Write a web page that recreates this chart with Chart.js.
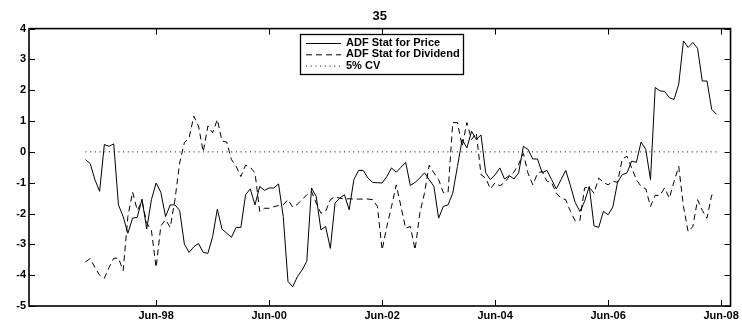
<!DOCTYPE html>
<html>
<head>
<meta charset="utf-8">
<title>ADF Stat 35</title>
<script src="https://cdn.jsdelivr.net/npm/chart.js@4.4.1/dist/chart.umd.min.js"></script>
<style>
    body { margin: 0; background: #fff; }
    .chart-wrap { width: 742px; height: 327px; position: relative; }
</style>
</head>
<body>
<div class="chart-wrap"><canvas id="adfChart"></canvas></div>
<script>
// Months are counted as year*12 + month index (Jan = 0)
const monthNames = ['Jan', 'Feb', 'Mar', 'Apr', 'May', 'Jun', 'Jul', 'Aug', 'Sep', 'Oct', 'Nov', 'Dec'];
const firstMonth = 1997 * 12 + 2;   // Mar-97
const axisStart = 1996 * 12 + 2;    // Mar-96
const axisEnd = 2008 * 12 + 7;      // Aug-08
const tickYears = [1998, 2000, 2002, 2004, 2006, 2008];  // labelled in June
const yTicks = [-5, -4, -3, -2, -1, 0, 1, 2, 3, 4];
const cvLevel = 0;

// ADF stat for price, monthly from Mar-97
const priceStat = [
    -0.25, -0.38, -0.9, -1.28, 0.24, 0.18, 0.26, -1.72, -2.1, -2.64,
    -2.15, -2.12, -1.53, -2.5, -1.55, -1.01, -1.31, -2.1, -1.72, -1.72,
    -1.9, -2.99, -3.26, -3.08, -2.97, -3.26, -3.29, -2.75, -1.86, -2.51,
    -2.64, -2.77, -2.45, -2.45, -1.39, -1.2, -1.72, -1.12, -1.25, -1.17,
    -1.17, -1.04, -2.1, -4.2, -4.38, -4.05, -3.83, -3.55, -1.17, -1.45,
    -2.53, -2.42, -3.13, -1.66, -1.5, -1.39, -1.88, -0.9, -0.6, -0.6,
    -0.85, -0.99, -1.0, -1.01, -0.8, -0.52, -0.66, -0.5, -0.34, -1.09,
    -0.99, -0.85, -0.68, -0.9, -1.12, -2.15, -1.77, -1.72, -1.34, -0.47,
    0.4, 0.13, 0.67, 0.4, 0.55, -0.68, -0.9, -0.74, -0.52, -0.88,
    -0.77, -0.88, -0.68, 0.18, 0.08, -0.23, -0.23, -0.68, -0.6, -0.9,
    -1.2, -0.9, -0.6, -1.1, -1.64, -1.93, -1.61, -1.12, -2.4, -2.45,
    -1.93, -2.04, -1.79, -0.99, -0.74, -0.68, -0.3, -0.34, 0.32, 0.08,
    -0.9, 2.09, 1.98, 1.96, 1.76, 1.7, 2.2, 3.6, 3.39, 3.55,
    3.36, 2.3, 2.3, 1.38, 1.22
];

// ADF stat for dividend, monthly from Mar-97
const dividendStat = [
    -3.57, -3.46, -3.75, -4.0, -4.1, -3.75, -3.45, -3.45, -3.85, -2.1,
    -1.3, -1.9, -1.6, -2.3, -2.55, -3.75, -2.4, -2.2, -2.45, -1.55,
    -0.36, 0.3, 0.45, 1.16, 0.84, 0.0, 0.84, 0.62, 1.05, 0.35,
    0.32, -0.25, -0.47, -0.8, -0.43, -0.5, -0.68, -1.93, -1.83, -1.83,
    -1.78, -1.74, -1.72, -1.55, -1.79, -1.7, -1.55, -1.39, -1.28, -1.66,
    -1.99, -1.93, -1.55, -1.45, -1.5, -1.53, -1.52, -1.53, -1.53, -1.53,
    -1.53, -1.55, -1.77, -3.18, -2.42, -1.77, -1.07, -1.77, -2.48, -2.42,
    -3.18, -1.99, -1.34, -0.43, -0.68, -0.9, -1.32, -1.32, 0.95, 0.95,
    0.18, 0.95, 0.4, 0.62, -0.74, -0.85, -1.2, -1.0, -1.1, -1.0,
    -0.8, -0.65, -0.4, -0.05, -0.7, -1.07, -0.7, -0.63, -0.95, -1.0,
    -1.34, -1.5, -1.55, -1.93, -2.24, -2.23, -1.17, -1.14, -1.34, -0.85,
    -0.99, -1.07, -0.95, -0.99, -0.23, -0.14, -0.52, -0.9, -1.12, -1.2,
    -1.77, -1.41, -1.41, -1.17, -1.5, -0.96, -0.47, -1.77, -2.59, -2.42,
    -1.55, -1.9, -2.15, -1.4, -1.39
];

const labelFont = 'bold 11px "Liberation Sans", Arial, Helvetica, sans-serif';

function monthLabel(m) {
    const yy = String(Math.floor(m / 12) % 100).padStart(2, '0');
    return monthNames[m % 12] + '-' + yy;
}

function toPoints(values) {
    return values.map((v, i) => ({ x: firstMonth + i, y: v }));
}

const lastMonth = firstMonth + priceStat.length - 1;

// Matlab style box, inward ticks and boxed legend
const matlabFrame = {
    id: 'matlabFrame',
    afterDatasetsDraw(chart) {
        const { ctx, chartArea: a, scales } = chart;
        const x = scales.x, y = scales.y;
        ctx.save();
        ctx.strokeStyle = '#000';
        ctx.setLineDash([]);
        ctx.lineWidth = 1;
        ctx.beginPath();
        y.ticks.forEach(t => {
            const py = Math.round(y.getPixelForValue(t.value)) + 0.5;
            ctx.moveTo(a.left, py); ctx.lineTo(a.left + 6, py);
            ctx.moveTo(a.right, py); ctx.lineTo(a.right - 6, py);
        });
        x.ticks.forEach(t => {
            const px = Math.round(x.getPixelForValue(t.value)) + 0.5;
            ctx.moveTo(px, a.bottom); ctx.lineTo(px, a.bottom - 6);
            ctx.moveTo(px, a.top); ctx.lineTo(px, a.top + 6);
        });
        ctx.stroke();
        ctx.lineWidth = 1.6;
        ctx.strokeRect(a.left, a.top, a.right - a.left, a.bottom - a.top);

        // legend box
        const box = { left: 300, top: 34, width: 163, height: 40 };
        ctx.fillStyle = '#fff';
        ctx.fillRect(box.left, box.top, box.width, box.height);
        ctx.lineWidth = 1.3;
        ctx.strokeRect(box.left + 0.5, box.top + 0.5, box.width, box.height);
        ctx.font = labelFont;
        ctx.textBaseline = 'middle';
        ctx.textAlign = 'left';
        chart.data.datasets.forEach((ds, i) => {
            const ry = box.top + 9 + i * 11.3;
            ctx.beginPath();
            ctx.lineWidth = 1;
            ctx.setLineDash(ds.borderDash || []);
            ctx.moveTo(box.left + 6, ry + 0.5);
            ctx.lineTo(box.left + 41, ry + 0.5);
            ctx.stroke();
            ctx.setLineDash([]);
            ctx.fillStyle = '#000';
            ctx.fillText(ds.label, box.left + 46, ry);
        });
        ctx.restore();
    }
};

const ctx = document.getElementById('adfChart');
new Chart(ctx, {
    type: 'line',
    data: {
        datasets: [{
            label: 'ADF Stat for Price',
            data: toPoints(priceStat),
            borderColor: '#000',
            borderWidth: 1,
            pointRadius: 0,
            tension: 0
        }, {
            label: 'ADF Stat for Dividend',
            data: toPoints(dividendStat),
            borderColor: '#000',
            borderWidth: 1,
            borderDash: [6, 4],
            pointRadius: 0,
            tension: 0
        }, {
            label: '5% CV',
            data: [{ x: firstMonth, y: cvLevel }, { x: lastMonth, y: cvLevel }],
            borderColor: '#000',
            borderWidth: 1,
            borderDash: [1, 3.7],
            pointRadius: 0,
            tension: 0
        }]
    },
    options: {
        responsive: true,
        maintainAspectRatio: false,
        animation: false,
        layout: {
            padding: { left: 0, right: 9, top: 0, bottom: 0 }
        },
        plugins: {
            legend: { display: false },
            tooltip: { enabled: false },
            title: {
                display: true,
                text: '35',
                fullSize: false,
                color: '#000',
                font: { family: '"Liberation Sans", Arial, sans-serif', size: 13, weight: 'bold' },
                padding: { top: 9, bottom: 4 }
            }
        },
        scales: {
            x: {
                type: 'linear',
                min: axisStart,
                max: axisEnd,
                grid: { display: false, drawTicks: false },
                border: { display: false },
                afterBuildTicks: (scale) => {
                    scale.ticks = tickYears.map(yr => ({ value: yr * 12 + 5 }));
                },
                afterFit: (scale) => { scale.height = 21; },
                ticks: {
                    autoSkip: false,
                    maxRotation: 0,
                    padding: 3,
                    color: '#000',
                    font: { family: '"Liberation Sans", Arial, sans-serif', size: 11, weight: 'bold' },
                    callback: (value) => monthLabel(value)
                }
            },
            y: {
                min: -5,
                max: 4,
                grid: { display: false, drawTicks: false },
                border: { display: false },
                afterBuildTicks: (scale) => {
                    scale.ticks = yTicks.map(v => ({ value: v }));
                },
                afterFit: (scale) => { scale.width = 29; },
                ticks: {
                    padding: 3,
                    color: '#000',
                    font: { family: '"Liberation Sans", Arial, sans-serif', size: 11, weight: 'bold' }
                }
            }
        }
    },
    plugins: [matlabFrame]
});
</script>
</body>
</html>
